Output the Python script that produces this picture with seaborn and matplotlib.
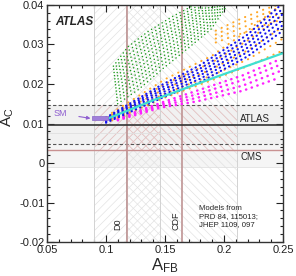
import numpy as np
import pandas as pd
import matplotlib
matplotlib.use("Agg")
import matplotlib.pyplot as plt
import seaborn as sns
from matplotlib.ticker import MultipleLocator

# ---------------- data ----------------
d0_afb, d0_lo, d0_hi = 0.118, 0.090, 0.146
cdf_afb, cdf_lo, cdf_hi = 0.164, 0.117, 0.211
atlas_ac, atlas_lo, atlas_hi = 0.0096, 0.0047, 0.0146
cms_ac, cms_lo, cms_hi = 0.0034, -0.0009, 0.0077
sm_afb = [0.088, 0.102]
sm_ac = [0.0108, 0.0118]

xticks = [0.05, 0.1, 0.15, 0.2, 0.25]
xticklabels = ["0.05", "0.1", "0.15", "0.2", "0.25"]
yticks = [-0.02, -0.01, 0.0, 0.01, 0.02, 0.03, 0.04]
yticklabels = ["-0.02", "-0.01", "0", "0.01", "0.02", "0.03", "0.04"]

# green model cloud (rows of points)
green_afb = [
    [0.1062, 0.1185, 0.1357, 0.1558, 0.1729, 0.1860],
    [0.1065, 0.11925, 0.13665, 0.1569, 0.17425, 0.1875],
    [0.1068, 0.1200, 0.1376, 0.1580, 0.1756, 0.1890],
    [0.1071, 0.12075, 0.1386, 0.15915, 0.17695, 0.1905],
    [0.1074, 0.1215, 0.1396, 0.1603, 0.1783, 0.1920],
    [0.1077, 0.12225, 0.14055, 0.1614, 0.17965, 0.1935],
    [0.1080, 0.1230, 0.1415, 0.1625, 0.1810, 0.1950],
    [0.1083, 0.12375, 0.1425, 0.16365, 0.18235, 0.1965],
    [0.1086, 0.1245, 0.1435, 0.1648, 0.1837, 0.1980],
    [0.1089, 0.12525, 0.14445, 0.1659, 0.18505, 0.1995],
    [0.1092, 0.1260, 0.1454, 0.1670, 0.1864, 0.2010],
    [0.1095, 0.12675, 0.1464, 0.16815, 0.18775, 0.2025],
    [0.1098, 0.1275, 0.1474, 0.1693, 0.1891, 0.2040],
]
green_ac = [
    [0.0245, 0.0294, 0.0333, 0.0370, 0.0397, 0.0415],
    [0.0237, 0.0285, 0.0325, 0.0363, 0.0392, 0.0414],
    [0.0229, 0.0276, 0.0317, 0.0356, 0.0387, 0.0413],
    [0.0221, 0.0267, 0.0309, 0.03495, 0.0382, 0.04125],
    [0.0213, 0.0258, 0.0301, 0.0343, 0.0377, 0.0412],
    [0.02055, 0.0249, 0.0293, 0.03365, 0.03725, 0.0411],
    [0.0198, 0.0240, 0.0285, 0.0330, 0.0368, 0.0410],
    [0.0190, 0.0231, 0.0277, 0.0323, 0.0363, 0.0409],
    [0.0182, 0.0222, 0.0269, 0.0316, 0.0358, 0.0408],
    [0.0174, 0.0213, 0.0261, 0.03095, 0.0353, 0.04075],
    [0.0166, 0.0204, 0.0253, 0.0303, 0.0348, 0.0407],
    [0.0158, 0.0195, 0.0245, 0.02965, 0.03435, 0.0406],
    [0.0150, 0.0186, 0.0237, 0.0290, 0.0339, 0.0405],
]

# orange model cloud
orange_afb = [0.105, 0.150, 0.190, 0.220, 0.250]
orange_ac = [
    [0.0127, 0.0212, 0.0272, 0.0335, 0.0405],
    [0.0122, 0.0200, 0.0255, 0.0310, 0.0375],
    [0.0117, 0.0188, 0.0238, 0.0285, 0.0345],
    [0.0112, 0.0176, 0.0222, 0.0262, 0.0315],
    [0.0108, 0.0166, 0.0210, 0.0245, 0.0285],
]
orange_top_afb = [0.193, 0.205, 0.215, 0.225, 0.235, 0.248]
orange_top_ac = [
    [0.0335, 0.0352, 0.0366, 0.0378, 0.0390, 0.0402],
    [0.0325, 0.0342, 0.0355, 0.0367, 0.0379, 0.0391],
    [0.0315, 0.0330, 0.0342, 0.0354, 0.0366, 0.0378],
    [0.0305, 0.0318, 0.0328, 0.0339, 0.0350, 0.0362],
]

# blue model cloud
blue_afb = [0.100, 0.146, 0.180, 0.220, 0.250]
blue_ac = [
    [0.0115, 0.0196, 0.0248, 0.0325, 0.0405],
    [0.01124, 0.01894, 0.02394, 0.0314, 0.0391],
    [0.01098, 0.01828, 0.02308, 0.0303, 0.0377],
    [0.01072, 0.01762, 0.02222, 0.0292, 0.0363],
    [0.01046, 0.01696, 0.02136, 0.0281, 0.0349],
    [0.0102, 0.0163, 0.0205, 0.0270, 0.0335],
]

# magenta model cloud
magenta_afb = [0.110, 0.146, 0.177, 0.216, 0.247]
magenta_ac = [
    [0.0113, 0.0152, 0.0183, 0.0222, 0.0262],
    [0.0111, 0.0148, 0.0174, 0.0210, 0.0248],
    [0.0110, 0.0144, 0.0165, 0.0196, 0.0232],
    [0.0108, 0.0140, 0.0156, 0.0183, 0.0216],
]

# cyan model line
cyan_afb = [0.101, 0.146, 0.200, 0.250]
cyan_ac = [0.0112, 0.0166, 0.0225, 0.0278]


def rows_frame(xs, ys):
    recs = []
    for i, yr in enumerate(ys):
        xr = xs[i] if isinstance(xs[0], list) else xs
        for x, y in zip(xr, yr):
            recs.append({"afb": x, "ac": y, "row": i})
    return pd.DataFrame(recs)


# ---------------- styling ----------------
sns.set_style("ticks")
plt.rcParams["font.family"] = ["Liberation Sans", "DejaVu Sans"]
plt.rcParams["mathtext.fontset"] = "custom"
plt.rcParams["mathtext.rm"] = "Liberation Sans"
plt.rcParams["mathtext.it"] = "Liberation Sans"
plt.rcParams["hatch.linewidth"] = 0.45

fig = plt.figure(figsize=(2.96, 2.76), dpi=100)
ax = fig.add_axes([0.159, 0.123, 0.797, 0.859])
ax.set_xlim(0.05, 0.25)
ax.set_ylim(-0.02, 0.04)

# horizontal bands
ax.axhspan(cms_lo, cms_hi, color="#f5f5f5", lw=0, zorder=0)
ax.axhspan(atlas_lo, atlas_hi, color="#f1f1f1", lw=0, zorder=0)

# vertical hatched bands
ax.fill_betweenx([-0.02, 0.04], d0_lo, d0_hi, facecolor="none",
                 edgecolor="#e0e0e0", hatch="////", linewidth=0, zorder=0.5)
ax.fill_betweenx([-0.02, 0.04], cdf_lo, cdf_hi, facecolor="none",
                 edgecolor="#e0e0e0", hatch="\\\\\\\\", linewidth=0, zorder=0.5)
# overlap with horizontal band -> reddish hatch
ax.fill_betweenx([cms_ac, atlas_hi], d0_lo, d0_hi, facecolor="none",
                 edgecolor="#e6baba", hatch="////", linewidth=0, zorder=0.6)
ax.fill_betweenx([cms_ac, atlas_hi], cdf_lo, cdf_hi, facecolor="none",
                 edgecolor="#e6baba", hatch="\\\\\\\\", linewidth=0, zorder=0.6)

for xv in (d0_lo, d0_hi, cdf_lo, cdf_hi):
    ax.axvline(xv, color="#d2d2d2", lw=0.7, zorder=0.7)
for yv in (cms_lo, cms_hi):
    ax.axhline(yv, color="#e0e0e0", lw=0.6, zorder=0.7)
for yv in (atlas_lo, atlas_hi):
    ax.axhline(yv, color="#555555", lw=0.8, ls=(0, (3, 2)), zorder=0.8)

ax.axvline(d0_afb, color="#bf9494", lw=1.2, zorder=0.9)
ax.axvline(cdf_afb, color="#bf9494", lw=1.2, zorder=0.9)
ax.axhline(cms_ac, color="#c99292", lw=1.0, zorder=0.9)
ax.axhline(atlas_ac, color="#333333", lw=1.2, zorder=0.9)

# model clouds
common = dict(x="afb", y="ac", units="row", estimator=None, sort=False,
              legend=False, ax=ax, dash_capstyle="round")
sns.lineplot(data=rows_frame(green_afb, green_ac), color="#1e9a1e", lw=1.1,
             linestyle=(0, (0.1, 2.6)), zorder=2, **common)
sns.lineplot(data=rows_frame(magenta_afb, magenta_ac), color="#ff20ff", lw=1.8,
             linestyle=(0, (0.1, 2.3)), zorder=2.1, **common)
sns.lineplot(data=rows_frame(orange_afb, orange_ac), color="#ffa726", lw=1.5,
             linestyle=(0, (0.1, 3.0)), zorder=2.2, **common)
sns.lineplot(data=rows_frame(orange_top_afb, orange_top_ac), color="#ffa726", lw=1.5,
             linestyle=(0, (0.1, 3.0)), zorder=2.2, **common)
sns.lineplot(data=rows_frame(blue_afb, blue_ac), color="#1414f0", lw=1.6,
             linestyle=(0, (0.1, 2.0)), zorder=2.3, **common)
sns.lineplot(x=cyan_afb, y=cyan_ac, color="#3fe0d0", lw=1.6, sort=False,
             estimator=None, ax=ax, zorder=2.5)

# SM
ax.fill_between(sm_afb, sm_ac[0], sm_ac[1], color="#a17fd9", lw=0.5,
                edgecolor="#8a66c8", zorder=3)
ax.annotate("SM", xy=(0.0868, 0.0113), xytext=(0.0615, 0.0125),
            fontsize=6.5, color="#8f5fd0", ha="center", va="center",
            arrowprops=dict(arrowstyle="-|>", color="#8f5fd0", lw=0.8,
                            mutation_scale=5, shrinkA=6, shrinkB=0), zorder=3)

# texts
ax.text(0.057, 0.0356, "ATLAS", fontsize=8.5, fontweight="bold",
        fontstyle="italic", ha="left", va="center")
ax.text(0.2135, 0.0112, "ATLAS", fontsize=7, ha="left", va="center")
ax.text(0.2140, 0.0015, "CMS", fontsize=7, ha="left", va="center")
ax.text(0.1788, -0.0135, "Models from\nPRD 84, 115013;\nJHEP 1109, 097",
        fontsize=5.6, ha="left", va="center", linespacing=1.25)
ax.text(0.1102, -0.0170, "D0", fontsize=6.5, rotation=90, ha="center", va="bottom")
ax.text(0.1593, -0.0170, "CDF", fontsize=6.5, rotation=90, ha="center", va="bottom")

# axes
ax.set_xticks(xticks)
ax.set_xticklabels(xticklabels)
ax.set_yticks(yticks)
ax.set_yticklabels(yticklabels)
ax.xaxis.set_minor_locator(MultipleLocator(0.01))
ax.yaxis.set_minor_locator(MultipleLocator(0.002))
ax.tick_params(which="both", direction="in", top=True, right=True,
               labelsize=8, colors="#222222", width=0.8)
ax.tick_params(which="major", length=5, pad=2)
ax.tick_params(which="minor", length=2.5)
for s in ax.spines.values():
    s.set_linewidth(1.0)
    s.set_color("#333333")

ax.set_xlabel(r"A$_{\mathregular{FB}}$", fontsize=12)
ax.set_ylabel(r"A$_{\mathregular{C}}$", fontsize=11)
ax.xaxis.set_label_coords(0.5, -0.058)
ax.yaxis.set_label_coords(-0.13, 0.525)

fig.savefig("out.png", dpi=100)
